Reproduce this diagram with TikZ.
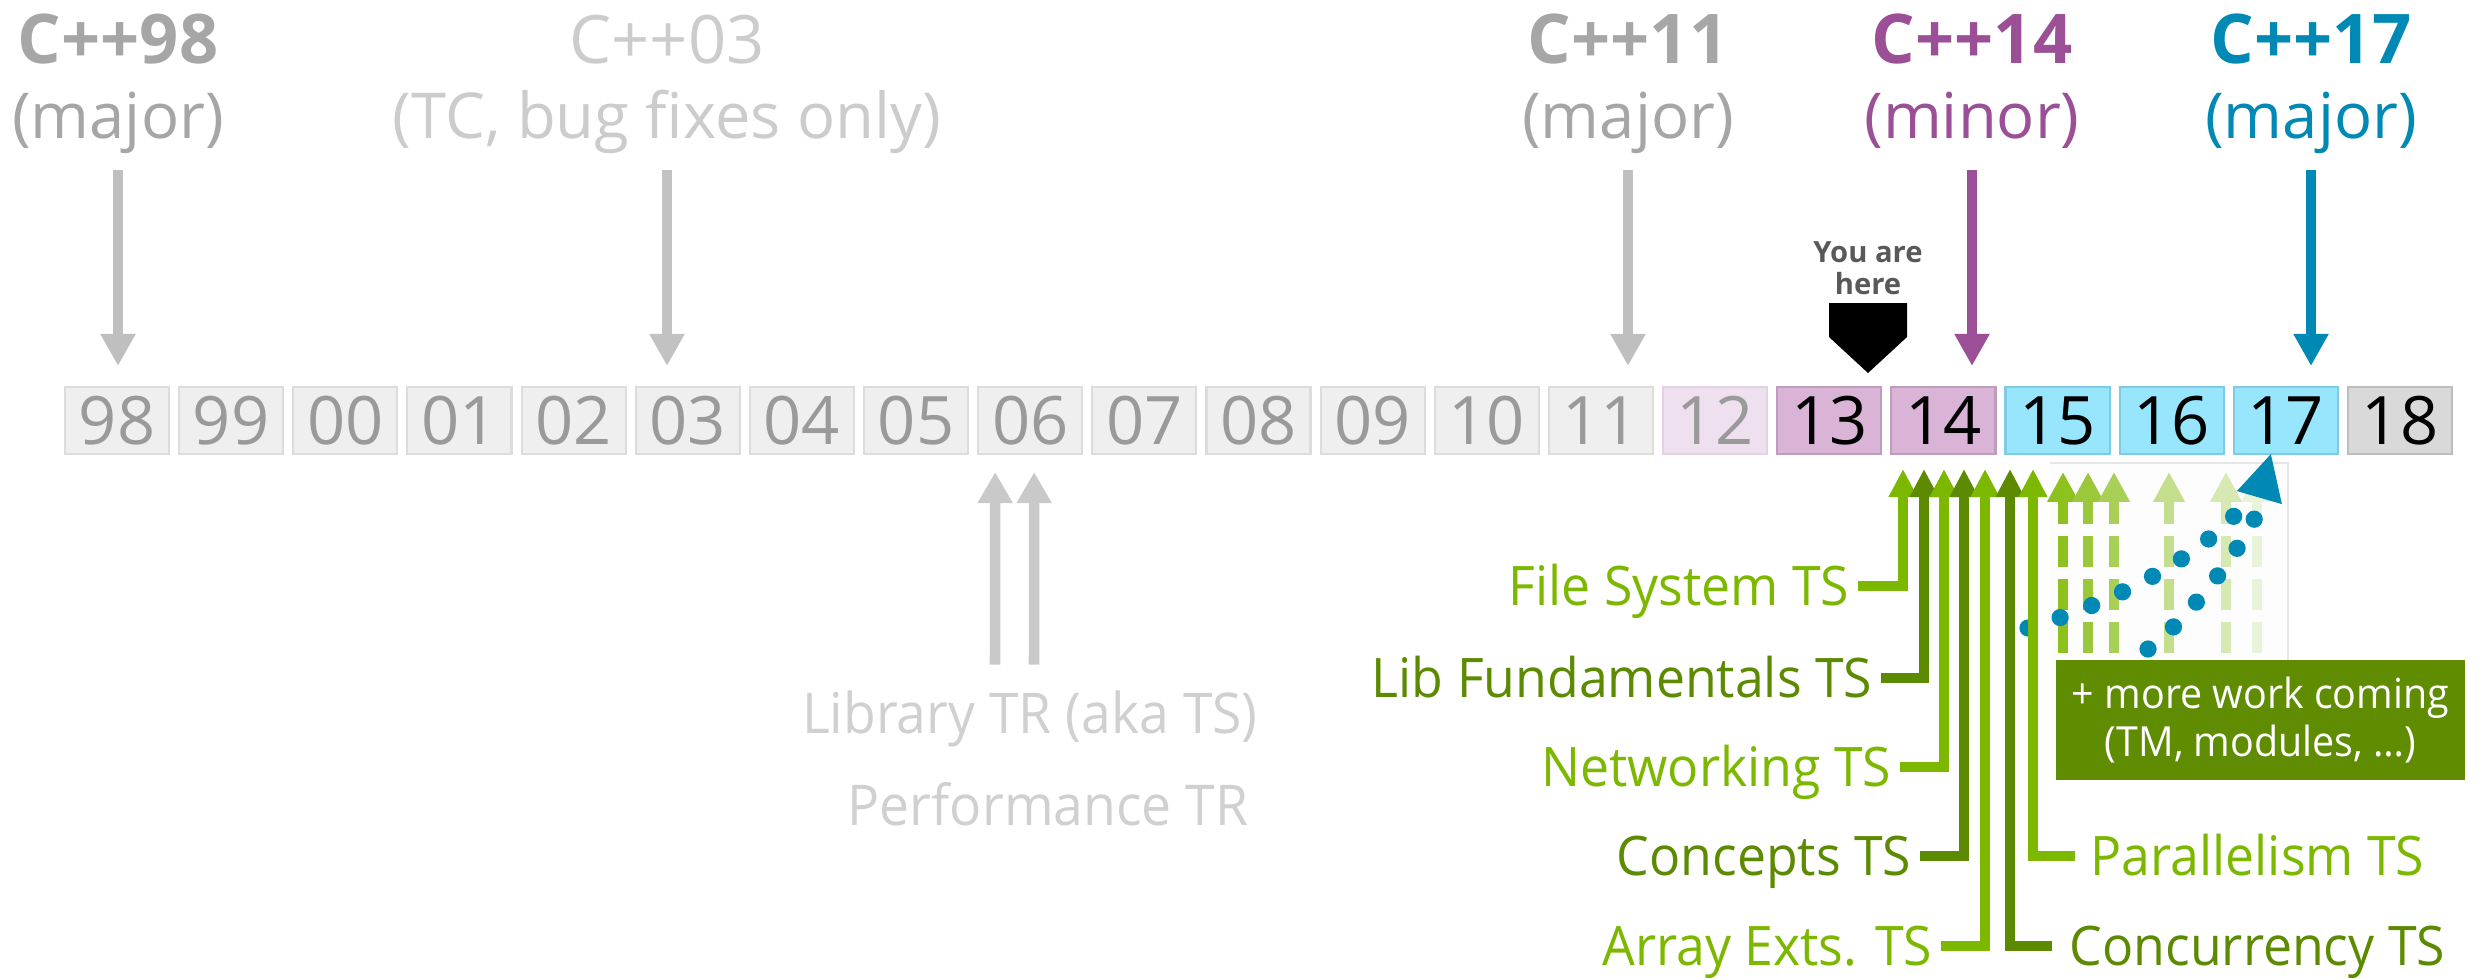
\documentclass[tikz,border=0pt]{standalone}
\usepackage{fontspec}
\setmainfont{Open Sans}
\newfontfamily\narrowsans{Open Sans}[FakeStretch=0.95]
\usetikzlibrary{arrows.meta,calc}

% year boxes
\definecolor{oldfill}{HTML}{EFEFEF}
\definecolor{olddraw}{HTML}{DCDCDC}
\definecolor{oldtext}{HTML}{9A9A9A}
\definecolor{prevfill}{HTML}{EFE0EF}
\definecolor{prevdraw}{HTML}{E3D2E3}
\definecolor{curfill}{HTML}{DAB4D7}
\definecolor{curdraw}{HTML}{BE9CBC}
\definecolor{nextfill}{HTML}{98E6FD}
\definecolor{nextdraw}{HTML}{80CBE3}
\definecolor{futfill}{HTML}{D9D9D9}
\definecolor{futdraw}{HTML}{BDBDBD}
% standards and reports
\definecolor{stdgray}{HTML}{A6A6A6}
\definecolor{tcgray}{HTML}{CCCCCC}
\definecolor{arrgray}{HTML}{BFBFBF}
\definecolor{trgray}{HTML}{D0D0D0}
\definecolor{cppfourteen}{HTML}{9B4F96}
\definecolor{cppseventeen}{HTML}{0089B4}
\definecolor{heregray}{HTML}{595959}
% technical specifications
\definecolor{tslight}{HTML}{7DB800}
\definecolor{tsdark}{HTML}{5C8A00}
\definecolor{boxgreen}{HTML}{5F8C00}
\definecolor{futA}{HTML}{8CC11E}
\definecolor{futB}{HTML}{9AC83A}
\definecolor{futC}{HTML}{A8CF56}
\definecolor{futD}{HTML}{C3DF8E}
\definecolor{futE}{HTML}{D6E9B3}
\definecolor{futF}{HTML}{E9F3DA}
\definecolor{panelfill}{HTML}{FDFDFD}
\definecolor{paneldraw}{HTML}{E6E6E6}

\tikzset{
  yearbox/.style={minimum width=1.04cm, minimum height=0.67cm, inner sep=0pt,
    line width=0.6pt, font=\fontsize{19pt}{19pt}\selectfont},
  oldyr/.style={yearbox, fill=oldfill, draw=olddraw, text=oldtext},
  prevyr/.style={yearbox, fill=prevfill, draw=prevdraw, text=oldtext},
  curyr/.style={yearbox, fill=curfill, draw=curdraw, text=black},
  nextyr/.style={yearbox, fill=nextfill, draw=nextdraw, text=black},
  futyr/.style={yearbox, fill=futfill, draw=futdraw, text=black},
  stdname/.style={font=\fontsize{19.5pt}{19.5pt}\selectfont\bfseries, inner sep=0pt, anchor=base},
  stdkind/.style={font=\fontsize{18pt}{18pt}\selectfont, inner sep=0pt, anchor=base},
  downarrow/.style={line width=2.6pt, -{Triangle[width=9.4pt,length=9.1pt]}},
  trarrow/.style={draw=arrgray!85, line width=3pt, -{Triangle[width=9.4pt,length=8.8pt]}},
  trlabel/.style={font=\narrowsans\fontsize{16pt}{16pt}\selectfont, text=trgray, inner sep=0pt, anchor=base},
  tslabel/.style={font=\narrowsans\fontsize{15.5pt}{15.5pt}\selectfont, inner sep=0pt},
  tsarrow/.style={line width=2.6pt, line join=miter, -{Triangle[width=7.7pt,length=8pt]}},
  futarrow/.style={line width=2.8pt, dash pattern=on 8.8pt off 3.4pt,
    -{Triangle[width=8.5pt,length=8.5pt]}},
  dotted path/.style={draw=cppseventeen, line width=4.9pt, line cap=round,
    dash pattern=on 0pt off 9.6pt},
}

\begin{document}
\begin{tikzpicture}[x=0.01cm, y=-0.01cm]
\useasboundingbox (0,0) rectangle (2479,978);

% ---- timeline of years ----
\foreach \yr/\kind [count=\i from 0] in {98/oldyr,99/oldyr,00/oldyr,01/oldyr,02/oldyr,
    03/oldyr,04/oldyr,05/oldyr,06/oldyr,07/oldyr,08/oldyr,09/oldyr,10/oldyr,11/oldyr,
    12/prevyr,13/curyr,14/curyr,15/nextyr,16/nextyr,17/nextyr,18/futyr}
  \node[\kind] (y\yr) at ({117+114.15*\i},420.5) {\yr};

% ---- published standards ----
\node[stdname, text=stdgray] (n98) at (118,63) {C++98};
\node[stdkind, text=stdgray] (k98) at (118,138) {(major)};
\node[stdkind, text=tcgray, font=\fontsize{19pt}{19pt}\selectfont] (n03) at (667,63) {C++03};
\node[stdkind, text=tcgray] (k03) at (667,138) {(TC, bug fixes only)};
\node[stdname, text=stdgray] (n11) at (1628,63) {C++11};
\node[stdkind, text=stdgray] (k11) at (1628,138) {(major)};
\node[stdname, text=cppfourteen] (n14) at (1972,63) {C++14};
\node[stdkind, text=cppfourteen] (k14) at (1972,138) {(minor)};
\node[stdname, text=cppseventeen] (n17) at (2311,63) {C++17};
\node[stdkind, text=cppseventeen] (k17) at (2311,138) {(major)};

\draw[downarrow, arrgray] ($(k98.base)+(0,32)$) -- ($(k98.base |- y98.north)+(0,-20)$);
\draw[downarrow, tcgray!95!black] ($(k03.base)+(0,32)$) -- ($(k03.base |- y03.north)+(0,-20)$);
\draw[downarrow, arrgray] ($(k11.base)+(0,32)$) -- ($(k11.base |- y11.north)+(0,-20)$);
\draw[downarrow, cppfourteen] ($(k14.base)+(0,32)$) -- ($(k14.base |- y14.north)+(0,-20)$);
\draw[downarrow, cppseventeen] ($(k17.base)+(0,32)$) -- ($(k17.base |- y17.north)+(0,-20)$);

% ---- current position marker ----
\node[font=\fontsize{8.3pt}{9.1pt}\selectfont\bfseries, text=heregray, align=center,
  inner sep=0pt, anchor=south] (here) at (1868,295) {You are\\here};
\coordinate (mk) at (1868,303);
\fill[black] ($(mk)+(-39,0)$) -- ($(mk)+(39,0)$) -- ($(mk)+(39,34)$)
  -- ($(mk)+(0,70)$) -- ($(mk)+(-39,34)$) -- cycle;

% ---- technical reports of the 2000s ----
\node[trlabel] (lib) at (1030,733) {Library TR (aka TS)};
\node[trlabel] (perf) at (1048,825) {Performance TR};
\draw[trarrow] ($(lib.north)+(-35,-25)$) -- ($(y06.south)+(-35,17)$);
\draw[trarrow] ($(lib.north)+(4,-25)$) -- ($(y06.south)+(4,17)$);

% ---- future work area ----
\fill[panelfill] (2050,463) rectangle (2288,660);
\draw[paneldraw, line width=0.5pt] (2288,660) -- (2288,463) -- (2050,463);

\foreach \xx/\cc in {2063/futA,2088/futB,2114/futC,2169/futD,2226/futE,2257/futF}
  \draw[futarrow, \cc] (\xx,653) -- (\xx,472);

% dotted paths heading towards C++17
\draw[dotted path] (2028,628) .. controls (2118,601) and (2207,555) .. (2252,495);
\draw[dotted path] (2148,649) .. controls (2185,623) and (2252,539) .. (2264,495);
\fill[cppseventeen] ($(y17.south)+(-15,-1)$) -- ($(y17.south)+(-49,36)$) -- ($(y17.south)+(-4,49)$) -- cycle;

\node[fill=boxgreen, text=white, minimum width=4.09cm, minimum height=1.2cm,
  inner sep=0pt, align=center, font=\narrowsans\fontsize{11.8pt}{13.4pt}\selectfont]
  (more) at (2260.5,720) {+ more work coming\\(TM, modules, …)};

% ---- technical specifications ----
\node[tslabel, text=tslight, anchor=base east] (fs)  at (1850,605) {File System TS};
\node[tslabel, text=tsdark,  anchor=base east] (lf)  at (1873,697) {Lib Fundamentals TS};
\node[tslabel, text=tslight, anchor=base east] (net) at (1892,786) {Networking TS};
\node[tslabel, text=tsdark,  anchor=base east] (con) at (1912,875) {Concepts TS};
\node[tslabel, text=tslight, anchor=base east] (arr) at (1933,965) {Array Exts. TS};
\node[tslabel, text=tslight, anchor=base west] (par) at (2090,875) {Parallelism TS};
\node[tslabel, text=tsdark,  anchor=base west] (cur) at (2069,965) {Concurrency TS};

\coordinate (tfs)  at (1903,469);
\coordinate (tlf)  at (1924,469);
\coordinate (tnet) at (1944,469);
\coordinate (tcon) at (1964,469);
\coordinate (tarr) at (1985,469);
\coordinate (tcur) at (2010,469);
\coordinate (tpar) at (2033,469);

\draw[tsarrow, tslight] ($(fs.base east)+(8,-19)$)  -| (tfs);
\draw[tsarrow, tsdark]  ($(lf.base east)+(8,-19)$)  -| (tlf);
\draw[tsarrow, tslight] ($(net.base east)+(8,-19)$) -| (tnet);
\draw[tsarrow, tsdark]  ($(con.base east)+(8,-19)$) -| (tcon);
\draw[tsarrow, tslight] ($(arr.base east)+(8,-19)$) -| (tarr);
\draw[tsarrow, tsdark]  ($(cur.base west)+(-17,-19)$) -| (tcur);
\draw[tsarrow, tslight] ($(par.base west)+(-15,-19)$) -| (tpar);
\end{tikzpicture}
\end{document}
